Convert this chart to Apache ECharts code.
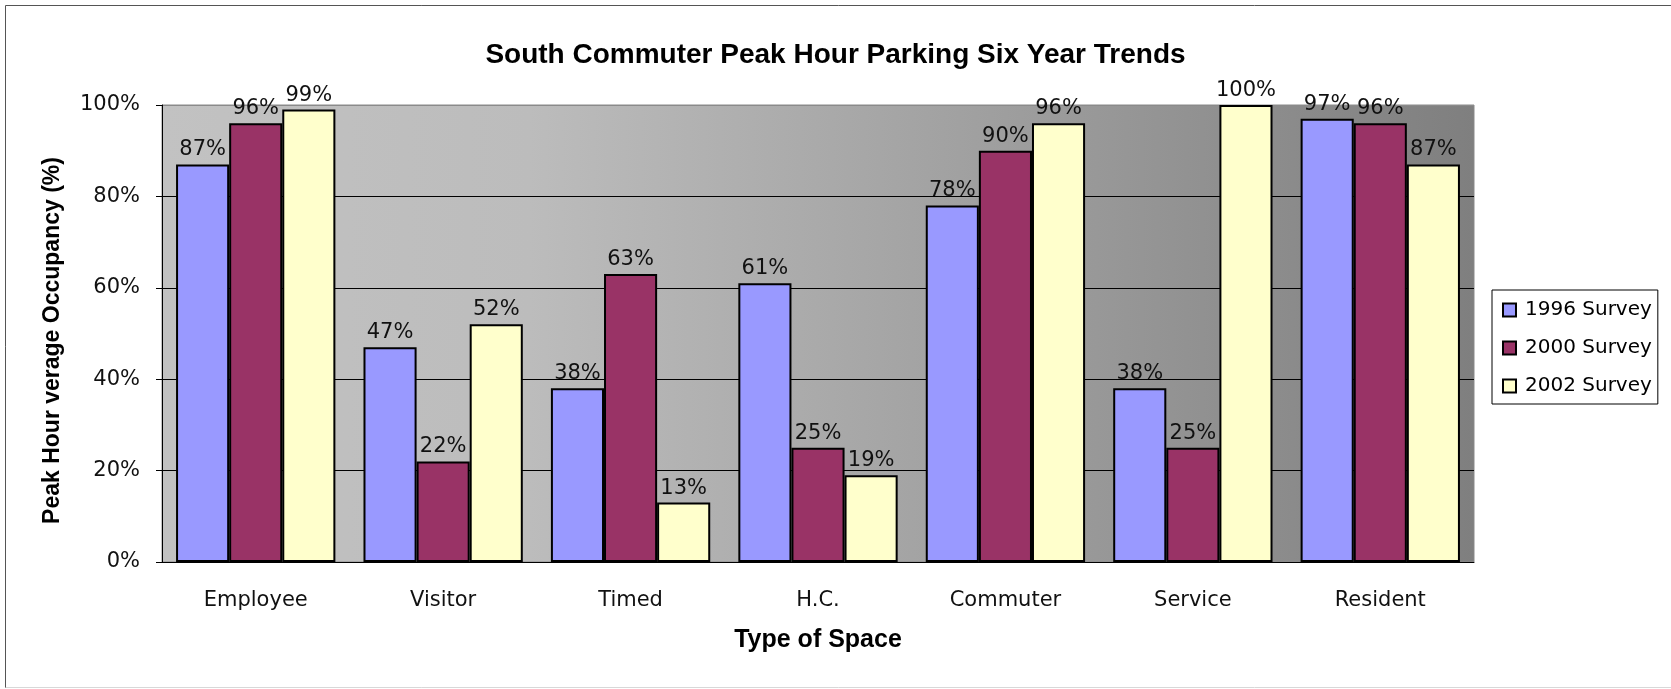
<!DOCTYPE html>
<html>
<head>
<meta charset="utf-8">
<script src="https://cdn.jsdelivr.net/npm/echarts@6/dist/echarts.min.js"></script>
<style>
  html, body { margin: 0; padding: 0; background: #fff; }
  #chart { width: 1671px; height: 689px; }
</style>
</head>
<body>
<div id="chart"></div>
<script>
// categories and survey values (percent)
const spaceTypes = ['Employee', 'Visitor', 'Timed', 'H.C.', 'Commuter', 'Service', 'Resident']
const survey1996 = [87, 47, 38, 61, 78, 38, 97]
const survey2000 = [96, 22, 63, 25, 90, 25, 96]
const survey2002 = [99, 52, 13, 19, 96, 100, 87]
const seriesNames = ['1996 Survey', '2000 Survey', '2002 Survey']
const seriesColors = ['#9999ff', '#993366', '#ffffcc']

const labelFont = 'DejaVu Sans'
const boldFont = 'Liberation Sans'

const chart = echarts.init(document.getElementById('chart'))

function makeSeries(name, data, color) {
  return {
    name: name,
    type: 'bar',
    data: data,
    barGap: '0%',
    barCategoryGap: '15%',
    itemStyle: {
      color: color,
      borderColor: '#000',
      borderWidth: 2
    },
    label: {
      show: true,
      position: 'top',
      distance: 4,
      formatter: '{c}%',
      color: '#111',
      fontFamily: labelFont,
      fontSize: 21
    }
  }
}

chart.setOption({
  animation: false,
  title: {
    text: 'South Commuter Peak Hour Parking Six Year Trends',
    left: 'center',
    top: 41,
    padding: 0,
    textStyle: {
      fontFamily: boldFont,
      fontWeight: 'bold',
      fontSize: 28,
      color: '#000'
    }
  },
  legend: {
    orient: 'vertical',
    left: 1492,
    top: 290,
    padding: [10, 6, 8, 10],
    itemWidth: 13,
    itemHeight: 13,
    itemGap: 18,
    icon: 'rect',
    backgroundColor: '#fff',
    borderColor: '#000',
    borderWidth: 1,
    textStyle: {
      fontFamily: labelFont,
      fontSize: 20,
      color: '#000',
      padding: [0, 0, 0, 4]
    },
    data: seriesNames
  },
  grid: {
    left: 162,
    right: 197,
    top: 105,
    bottom: 127,
    show: true,
    borderColor: '#8a8a8a',
    borderWidth: 1,
    backgroundColor: new echarts.graphic.LinearGradient(0, 0, 1, 0, [
      { offset: 0, color: '#c2c2c2' },
      { offset: 0.28, color: '#bcbcbc' },
      { offset: 0.62, color: '#a0a0a0' },
      { offset: 1, color: '#7f7f7f' }
    ])
  },
  xAxis: {
    type: 'category',
    data: spaceTypes,
    name: 'Type of Space',
    nameLocation: 'middle',
    nameGap: 66,
    nameTextStyle: {
      fontFamily: boldFont,
      fontWeight: 'bold',
      fontSize: 25,
      color: '#000'
    },
    axisLine: { lineStyle: { color: '#000', width: 1 } },
    axisTick: { length: 8, lineStyle: { color: '#000' } },
    axisLabel: {
      margin: 28,
      fontFamily: labelFont,
      fontSize: 21,
      color: '#111'
    }
  },
  yAxis: {
    type: 'value',
    min: 0,
    max: 100,
    interval: 20,
    name: 'Peak Hour verage Occupancy (%)',
    nameLocation: 'middle',
    nameGap: 98,
    nameTextStyle: {
      fontFamily: boldFont,
      fontWeight: 'bold',
      fontSize: 23,
      color: '#000',
      padding: [0, 14, 0, 0]
    },
    axisLine: { show: true, lineStyle: { color: '#000', width: 1 } },
    axisTick: { show: true, length: 6, lineStyle: { color: '#000' } },
    axisLabel: {
      formatter: '{value}%',
      margin: 22,
      fontFamily: labelFont,
      fontSize: 21,
      color: '#111'
    },
    splitLine: {
      show: true,
      lineStyle: { color: ['#000', '#000', '#000', '#000', '#000', '#8a8a8a'], width: 1 }
    }
  },
  graphic: [
    { type: 'line', shape: { x1: 5.5, y1: 5.5, x2: 5.5, y2: 688 }, style: { stroke: '#555', lineWidth: 1 } },
    { type: 'line', shape: { x1: 5.5, y1: 5.5, x2: 1671, y2: 5.5 }, style: { stroke: '#555', lineWidth: 1 } },
    { type: 'line', shape: { x1: 5.5, y1: 687.5, x2: 1671, y2: 687.5 }, style: { stroke: '#d8d8d8', lineWidth: 1 } }
  ],
  series: [
    makeSeries(seriesNames[0], survey1996, seriesColors[0]),
    makeSeries(seriesNames[1], survey2000, seriesColors[1]),
    makeSeries(seriesNames[2], survey2002, seriesColors[2])
  ]
})
</script>
</body>
</html>
